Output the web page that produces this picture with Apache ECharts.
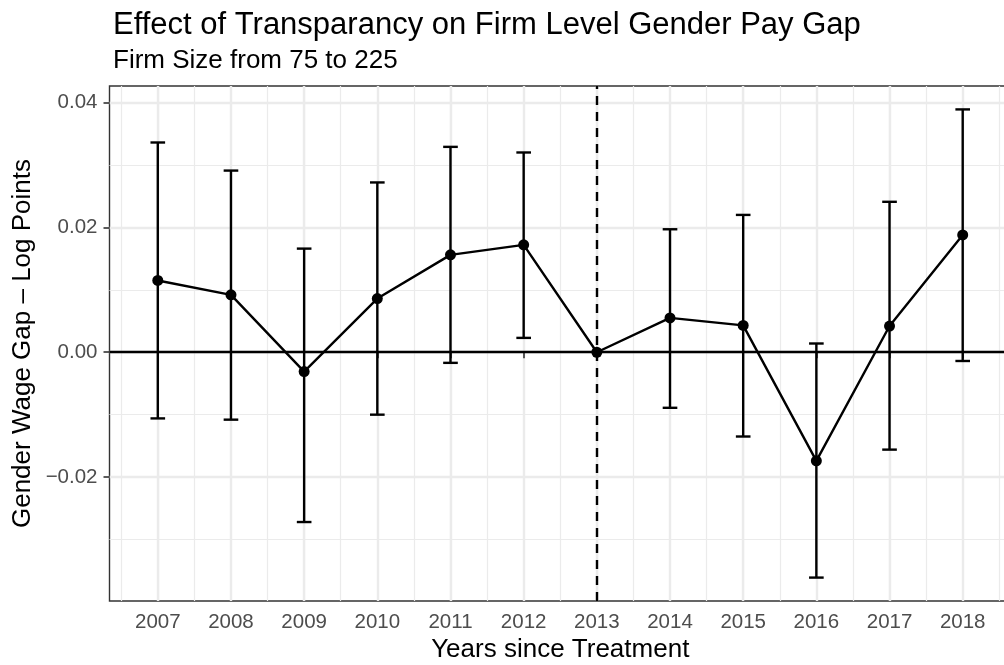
<!DOCTYPE html>
<html>
<head>
<meta charset="utf-8">
<script src="https://cdn.jsdelivr.net/npm/echarts@6/dist/echarts.min.js"></script>
<style>
  html, body { margin: 0; padding: 0; background: #fff; }
  #chart { width: 1004px; height: 665px; }
</style>
</head>
<body>
<div id="chart"></div>
<script>
const years = [2007, 2008, 2009, 2010, 2011, 2012, 2013, 2014, 2015, 2016, 2017, 2018];
const estimate = [0.0115, 0.0092, -0.0031, 0.0086, 0.0156, 0.0172, 0, 0.0055, 0.0043, -0.0174, 0.0042, 0.0188];
const lower = [-0.0106, -0.0108, -0.0272, -0.0100, -0.0017, 0.0023, null, -0.0089, -0.0135, -0.0361, -0.0156, -0.0014];
const upper = [0.0336, 0.0291, 0.0166, 0.0272, 0.0329, 0.0320, null, 0.0197, 0.0220, 0.0014, 0.0241, 0.0389];
const yTicks = [-0.02, 0, 0.02, 0.04];
const treatmentYear = 2013;
const capWidth = 0.2;

const font = '"Liberation Sans", Arial, sans-serif';

// ggplot-style 5% expansion around the data (error bar caps included)
const xLo = years[0] - capWidth / 2, xHi = years[years.length - 1] + capWidth / 2;
const xPad = (xHi - xLo) * 0.05;
const allY = lower.concat(upper, estimate).filter(v => v != null);
const yLo = Math.min(...allY), yHi = Math.max(...allY);
const yPad = (yHi - yLo) * 0.05;

const points = years.map((y, i) => [y, estimate[i]]);
const bars = years.map((y, i) => [y, lower[i], upper[i]]).filter(d => d[1] != null);

const fmtY = v => (v < 0 ? '\u2212' + Math.abs(v).toFixed(2) : v.toFixed(2));

const chart = echarts.init(document.getElementById('chart'), null, { renderer: 'canvas' });
chart.setOption({
  animation: false,
  backgroundColor: '#ffffff',
  textStyle: { fontFamily: font },
  title: [
    {
      text: 'Effect of Transparancy on Firm Level Gender Pay Gap',
      left: 108, top: 5,
      textStyle: { fontFamily: font, fontSize: 31, fontWeight: 'normal', color: '#000' }
    },
    {
      text: 'Firm Size from 75 to 225',
      left: 108, top: 43,
      textStyle: { fontFamily: font, fontSize: 26, fontWeight: 'normal', color: '#000' }
    }
  ],
  grid: {
    left: 109.5, right: -7, top: 86, bottom: 64,
    show: true, borderColor: '#333333', borderWidth: 1.4, backgroundColor: 'transparent',
    containLabel: false, outerBoundsMode: 'none'
  },
  xAxis: {
    type: 'value',
    min: xLo - xPad, max: xHi + xPad,
    name: 'Years since Treatment',
    nameLocation: 'middle', nameGap: 36, nameMoveOverlap: false,
    nameTextStyle: { fontFamily: font, fontSize: 26, color: '#000' },
    axisLine: { show: false },
    axisTick: { show: true, customValues: years, length: 6, lineStyle: { color: '#333333', width: 1.6 } },
    axisLabel: { customValues: years, margin: 11, fontSize: 20.5, color: '#4d4d4d', fontFamily: font, formatter: v => String(v) },
    splitLine: { show: true, lineStyle: { color: '#ebebeb', width: 2.4 } },
    minorTick: { show: false, splitNumber: 4 },
    minorSplitLine: { show: true, lineStyle: { color: '#ebebeb', width: 1.2 } }
  },
  yAxis: {
    type: 'value',
    min: yLo - yPad, max: yHi + yPad,
    name: 'Gender Wage Gap \u2013 Log Points',
    nameLocation: 'middle', nameGap: 74, nameRotate: 90, nameMoveOverlap: false,
    nameTextStyle: { fontFamily: font, fontSize: 26, color: '#000' },
    axisLine: { show: false },
    axisTick: { show: true, customValues: yTicks, length: 6, lineStyle: { color: '#333333', width: 1.6 } },
    axisLabel: { customValues: yTicks, margin: 12, fontSize: 20.5, color: '#4d4d4d', fontFamily: font, formatter: fmtY },
    splitLine: { show: true, lineStyle: { color: '#ebebeb', width: 2.4 } },
    minorTick: { show: false, splitNumber: 2 },
    minorSplitLine: { show: true, lineStyle: { color: '#ebebeb', width: 1.2 } }
  },
  series: [
    {
      type: 'line',
      data: points,
      symbol: 'circle',
      symbolSize: 11,
      itemStyle: { color: '#000' },
      lineStyle: { color: '#000', width: 2.4 },
      z: 3,
      markLine: {
        silent: true,
        symbol: 'none',
        label: { show: false },
        data: [
          { yAxis: 0, lineStyle: { color: '#000', width: 2.4, type: 'solid' } },
          { xAxis: treatmentYear, lineStyle: { color: '#000', width: 2.4, type: [9, 7] } }
        ]
      }
    },
    {
      type: 'custom',
      data: bars,
      z: 4,
      renderItem(params, api) {
        const x = api.value(0);
        const lo = api.coord([x, api.value(1)]);
        const hi = api.coord([x, api.value(2)]);
        const half = api.size([capWidth, 0])[0] / 2;
        const style = { stroke: '#000', lineWidth: 2.4, fill: null };
        return {
          type: 'group',
          children: [
            { type: 'line', shape: { x1: lo[0], y1: lo[1], x2: hi[0], y2: hi[1] }, style },
            { type: 'line', shape: { x1: hi[0] - half, y1: hi[1], x2: hi[0] + half, y2: hi[1] }, style },
            { type: 'line', shape: { x1: lo[0] - half, y1: lo[1], x2: lo[0] + half, y2: lo[1] }, style }
          ]
        };
      }
    }
  ]
});
</script>
</body>
</html>
